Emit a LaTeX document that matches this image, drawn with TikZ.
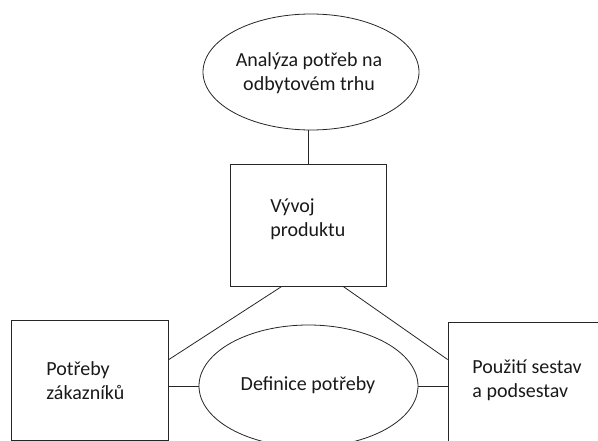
\documentclass[tikz,border=0pt]{standalone}
\usepackage{fontspec}
\setmainfont{Carlito}
\usetikzlibrary{shapes.geometric,calc}
\begin{document}
\begin{tikzpicture}[x=1pt,y=-1pt,
  line width=0.8pt,
  shp/.style={draw=black!85, inner sep=0pt},
  conn/.style={draw=black!85},
  txt/.style={font=\fontsize{20}{24}\selectfont, inner sep=0pt, align=left, text=black!90, anchor=west}]
\useasboundingbox (0,0) rectangle (598,441);
\clip (0,0) rectangle (598,441);
% shapes
\node[shp, ellipse, minimum width=216, minimum height=116] (analyza) at (311,72) {};
\node[shp, rectangle, minimum width=156, minimum height=122] (vyvoj) at (308,225) {};
\node[shp, rectangle, minimum width=157, minimum height=120] (zak) at (89.5,380) {};
\node[shp, ellipse, minimum width=219, minimum height=122] (def) at (308.5,386) {};
\node[shp, rectangle, minimum width=170, minimum height=130] (pouz) at (533,387) {};
% texts
\node[txt, align=center, anchor=center] (t1) at (309,73) {Analýza potřeb na\\odbytovém trhu};
\node[txt] (t2) at (270,219) {Vývoj\\produktu};
\node[txt] (t3) at (46,381) {Potřeby\\zákazníků};
\node[txt, anchor=center] (t4) at (308,385) {Definice potřeby};
\node[txt] (t5) at (472,380) {Použití sestav\\a podsestav};
% connectors
\draw[conn] (vyvoj.north) -- (vyvoj.north |- analyza.south);
\draw[conn] ($(vyvoj.south west)!0.333!(vyvoj.south east)$) -- ($(zak.north east)!0.333!(zak.south east)$);
\draw[conn] ($(vyvoj.south west)!0.724!(vyvoj.south east)$) -- ($(pouz.north west)!0.29!(pouz.south west)$);
\draw[conn] (def.west) -- (def.west -| zak.east);
\draw[conn] (def.east) -- (def.east -| pouz.west);
\end{tikzpicture}
\end{document}
